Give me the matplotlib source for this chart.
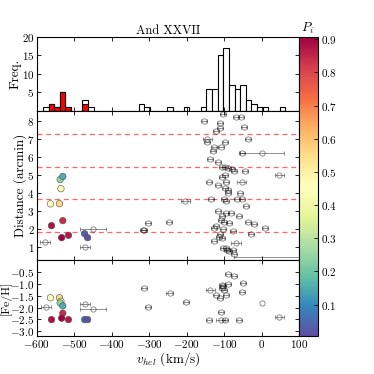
import numpy as np
import matplotlib
matplotlib.use('Agg')
import matplotlib.pyplot as plt

plt.rcParams['font.family'] = ['cmr10', 'DejaVu Serif']
plt.rcParams['mathtext.fontset'] = 'cm'
plt.rcParams['axes.formatter.use_mathtext'] = True
plt.rcParams['axes.unicode_minus'] = True

# histogram (bin left edges, counts), bin width 15 km/s
bin_w = 15
all_left = [-583, -568, -553, -538, -523, -478, -463, -328, -313, -253, -208,
            -163, -148, -133, -118, -103, -88, -73, -58, -43, -28, -13, 2, 47]
all_count = [1, 2, 1, 5, 1, 3, 1, 2, 1, 1, 1,
             1, 6, 6, 15, 17, 7, 6, 7, 3, 2, 1, 1, 1]
mem_left = [-568, -553, -538, -523, -478]
mem_count = [2, 1, 5, 1, 2]

# members
mem_vel = [-560, -563, -539, -535, -537, -530, -530, -533, -515, -472, -464]
mem_dist = [2.17, 3.39, 3.40, 4.24, 4.75, 4.92, 2.45, 1.50, 1.63, 1.72, 1.50]
mem_feh = [-2.51, -1.59, -1.59, -1.74, -1.81, -1.93, -2.24, -2.45, -2.51, -2.51, -2.51]
mem_p = [0.88, 0.45, 0.56, 0.42, 0.25, 0.15, 0.84, 0.90, 0.87, 0.03, 0.01]

# non-members, distance panel
nm_vel = [-104, -69, -56, -154, -112, -111, -47, -122, -145, -145, -98, -36,
          -128, -108, -131, -52, 0, -139, -118, -106, -98, -91, -79, -74, -45,
          46, -107, -98, -140, -116, -96, -54, -98, -91, -89, -58, -204, -136,
          -101, -96, -67, -52, -43, -117, -96, -83, -105, -61, -109, -100, -87,
          -37, -21, -122, -127, -104, -76, 8, -30, -112, -114, -107, -127, -69,
          -104, -96, -78, -94, -88, -75, -577, -471, -449, -316, -313, -303, -248,
          160]
nm_dist = [8.41, 8.26, 8.26, 8.03, 7.92, 7.61, 7.66, 7.47, 6.99, 6.86, 6.86, 7.00,
           6.56, 6.56, 6.34, 6.24, 6.24, 5.90, 5.72, 5.46, 5.46, 5.37, 5.35, 5.25, 5.23,
           5.03, 4.88, 5.03, 4.62, 4.47, 4.60, 4.62, 4.30, 4.15, 4.00, 3.97, 3.53, 3.66,
           3.66, 3.57, 3.66, 3.66, 3.25, 2.99, 2.88, 2.88, 2.69, 2.69, 2.47, 2.38, 2.32,
           2.36, 2.26, 2.15, 2.04, 1.98, 1.87, 2.02, 1.70, 1.69, 1.54, 1.48, 1.31, 1.18,
           0.90, 0.90, 0.83, 0.80, 0.75, 0.56, 1.28, 1.00, 2.00, 1.95, 1.93, 2.32, 2.38,
           0.40]
nm_verr = [8, 8, 8, 8, 8, 8, 8, 8, 12, 8, 8, 8,
           8, 8, 8, 8, 58, 8, 8, 8, 8, 8, 8, 8, 8,
           12, 8, 8, 8, 8, 8, 12, 8, 8, 8, 8, 12, 8,
           8, 8, 8, 8, 8, 8, 8, 8, 8, 8, 8, 8, 8,
           8, 8, 8, 8, 8, 8, 8, 8, 8, 8, 8, 8, 12,
           8, 8, 8, 8, 8, 8, 13, 13, 35, 8, 8, 8, 8,
           235]

# non-members, [Fe/H] panel
nmf_vel = [-91, -75, -51, -107, -103, -90, -138, -105, -100, -52, -122, -112, -96,
           -110, -140, -110, -98, -60, 46, -575, -471, -449, -314, -303, -246, -201]
nmf_feh = [-0.57, -0.68, -0.98, -1.05, -1.10, -1.02, -1.25, -1.19, -1.25, -1.35,
           -1.48, -1.60, -1.49, -2.21, -2.51, -2.51, -2.51, -2.51, -2.38,
           -1.98, -1.84, -2.07, -1.19, -1.98, -1.41, -1.76]
nmf_verr = [8, 8, 8, 8, 8, 8, 12, 8, 8, 8, 8, 8, 8, 8, 8, 12, 8, 8, 12,
            13, 13, 35, 8, 8, 8, 8]
nmf_open_vel = [0]
nmf_open_feh = [-1.83]

r_half = 1.82
vmin, vmax = 0.005, 0.907
cmap = 'Spectral_r'

fig = plt.figure(figsize=(3.74, 3.74), dpi=100)
L, R = 0.0976, 0.8008
ax1 = fig.add_axes([L, 0.7032, R - L, 0.1979])
ax2 = fig.add_axes([L, 0.3048, R - L, 0.3984])
ax3 = fig.add_axes([L, 0.1016, R - L, 0.2032])
cax = fig.add_axes([R, 0.1016, 0.0495, 0.7995])

# histogram
ax1.bar(all_left, all_count, width=bin_w, align='edge', facecolor='white',
        edgecolor='k', linewidth=0.8)
ax1.bar(mem_left, mem_count, width=bin_w, align='edge', facecolor='red',
        edgecolor='k', linewidth=0.8)
ax1.set_ylim(0, 20)
ax1.set_yticks([5, 10, 15, 20])
ax1.set_ylabel('Freq.', fontsize=9.5)
ax1.yaxis.set_label_coords(-0.055, 0.5)
ax1.set_title('And XXVII', fontsize=9, pad=2)

ekw = dict(fmt='o', mfc='none', mec='k', ecolor='k', alpha=0.5, ms=3.8,
           capsize=1.5, elinewidth=0.6, mew=0.6, capthick=0.6)

# distance panel
for k in range(1, 5):
    ax2.axhline(k * r_half, color='red', ls='--', lw=0.9, alpha=0.6, dashes=(4, 3))
ax2.errorbar(nm_vel, nm_dist, xerr=nm_verr, **ekw)
sc = ax2.scatter(mem_vel, mem_dist, c=mem_p, cmap=cmap, vmin=vmin, vmax=vmax,
                 s=22, edgecolors='0.3', linewidths=0.4, zorder=5)
ax2.set_ylim(0.25, 8.58)
ax2.set_yticks(range(1, 9))
ax2.set_ylabel('Distance (arcmin)', fontsize=9.5)
ax2.yaxis.set_label_coords(-0.037, 0.5)

# [Fe/H] panel
ax3.errorbar(nmf_vel, nmf_feh, xerr=nmf_verr, **ekw)
ax3.plot(nmf_open_vel, nmf_open_feh, 'o', mfc='none', mec='k', alpha=0.5, ms=3.8, mew=0.6)
ax3.scatter(mem_vel, mem_feh, c=mem_p, cmap=cmap, vmin=vmin, vmax=vmax,
            s=22, edgecolors='0.3', linewidths=0.4, zorder=5)
ax3.set_ylim(-3.2, 0)
ax3.set_yticks([-0.5, -1.0, -1.5, -2.0, -2.5, -3.0])
ax3.set_ylabel('[Fe/H]', fontsize=8.5)
ax3.yaxis.set_label_coords(-0.094, 0.5)
ax3.set_xlabel(r'$v_{hel}$ (km/s)', fontsize=9.5, labelpad=0)

for ax in (ax1, ax2, ax3):
    ax.set_xlim(-600, 100)
    ax.set_xticks(range(-600, 101, 100))
    ax.tick_params(direction='in', top=True, right=True, labelsize=8,
                   length=3, width=0.6, pad=1.5)
    for s in ax.spines.values():
        s.set_linewidth(0.8)
ax1.tick_params(labelbottom=False)
ax2.tick_params(labelbottom=False)

cb = fig.colorbar(sc, cax=cax)
cb.set_ticks([0.1, 0.2, 0.3, 0.4, 0.5, 0.6, 0.7, 0.8, 0.9])
cb.ax.tick_params(labelsize=8, direction='in', length=3, width=0.6, pad=2)
cb.outline.set_linewidth(0.8)
fig.text(0.822, 0.905, r'$P_i$', fontsize=9.5, ha='center', va='bottom')

fig.savefig('out.png', dpi=100)
